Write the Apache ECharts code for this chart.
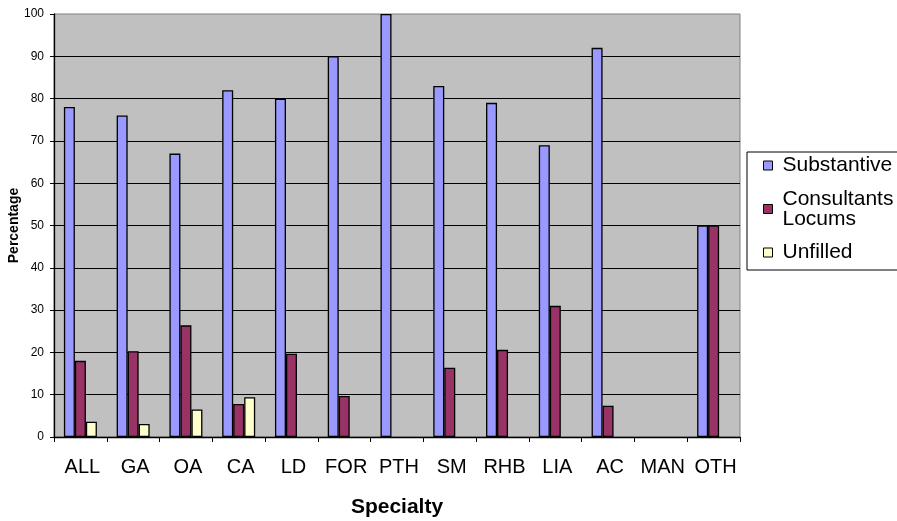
<!DOCTYPE html>
<html>
<head>
<meta charset="utf-8">
<script src="https://cdn.jsdelivr.net/npm/echarts@6/dist/echarts.min.js"></script>
<style>
html,body{margin:0;padding:0;background:#fff;}
#c{width:897px;height:521px;}
</style>
</head>
<body>
<div id="c"></div>
<script>
const categories = ['ALL','GA','OA','CA','LD','FOR','PTH','SM','RHB','LIA','AC','MAN','OTH'];
const seriesNames = ['Substantive', 'Consultants Locums', 'Unfilled'];
const substantive = [78, 76, 67, 82, 80, 90, 100, 83, 79, 69, 92, null, 50];
const locums = [18, 20.3, 26.4, 7.8, 19.7, 9.7, null, 16.4, 20.6, 31, 7.4, null, 50];
const unfilled = [3.6, 3.1, 6.5, 9.4, null, null, null, null, null, null, null, null, null];
const yTicks = {min: 0, max: 100, interval: 10};

const FONT = "'Liberation Sans', Arial, sans-serif";
const colors = ['#9999FF', '#993366', '#FFFFCC'];

const chart = echarts.init(document.getElementById('c'), null, {renderer: 'canvas'});
const mk = (name, data, color) => ({
  name: name,
  type: 'bar',
  data: data,
  barWidth: 11,
  barGap: '0%',
  itemStyle: {color: color, borderColor: '#000', borderWidth: 1.3},
  emphasis: {disabled: true},
  animation: false
});
chart.setOption({
  animation: false,
  textStyle: {fontFamily: FONT},
  grid: {
    left: 54, right: 157, top: 14, bottom: 84,
    containLabel: false,
    outerBoundsMode: 'none',
    show: true, backgroundColor: '#C0C0C0', borderColor: '#808080', borderWidth: 1
  },
  legend: {
    orient: 'vertical',
    left: 747, top: 152,
    padding: [0, 40, 4, 16],
    backgroundColor: '#fff',
    borderColor: '#000', borderWidth: 1,
    itemWidth: 9, itemHeight: 9,
    itemGap: 6.5,
    icon: 'rect',
    itemStyle: {borderColor: '#000', borderWidth: 1},
    formatter: n => n.replace(' ', '\n'),
    textStyle: {fontFamily: FONT, fontSize: 21, lineHeight: 20, color: '#000', padding: [7, 0, 0, 5]},
    data: seriesNames
  },
  xAxis: {
    type: 'category',
    data: categories,
    boundaryGap: true,
    name: 'Specialty',
    nameLocation: 'middle',
    nameGap: 60,
    nameMoveOverlap: false,
    nameTextStyle: {fontFamily: FONT, fontSize: 21, fontWeight: 'bold', color: '#000'},
    axisLine: {lineStyle: {color: '#000', width: 1.3}},
    axisTick: {show: true, length: 5, lineStyle: {color: '#000'}},
    axisLabel: {fontFamily: FONT, fontSize: 20, color: '#000', margin: 20, interval: 0, padding: [0, 0, 0, 4]}
  },
  yAxis: {
    type: 'value',
    min: yTicks.min, max: yTicks.max, interval: yTicks.interval,
    name: 'Percentage',
    nameLocation: 'middle',
    nameGap: 33,
    nameMoveOverlap: false,
    nameTextStyle: {fontFamily: FONT, fontSize: 14, fontWeight: 'bold', color: '#000'},
    axisLine: {show: true, lineStyle: {color: '#000', width: 1.3}},
    axisTick: {show: true, length: 4, lineStyle: {color: '#000'}},
    axisLabel: {fontFamily: FONT, fontSize: 12, color: '#000', margin: 10},
    splitLine: {show: true, showMaxLine: false, lineStyle: {color: '#000', width: 1}}
  },
  series: [
    mk(seriesNames[0], substantive, colors[0]),
    mk(seriesNames[1], locums, colors[1]),
    mk(seriesNames[2], unfilled, colors[2])
  ]
});
</script>
</body>
</html>
